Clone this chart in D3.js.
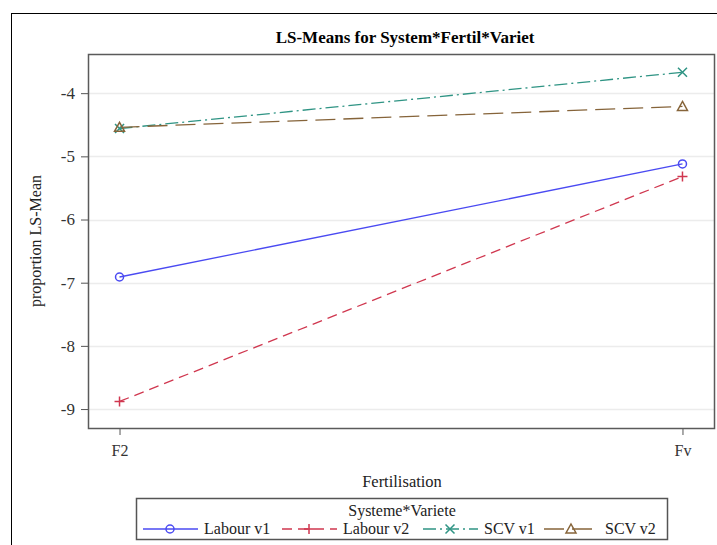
<!DOCTYPE html>
<html>
<head>
<meta charset="utf-8">
<script src="https://cdn.jsdelivr.net/npm/d3@7"></script>
<style>
  body { margin: 0; background: #fff; }
  svg text { font-family: "Liberation Serif", "Times New Roman", serif; }
</style>
</head>
<body>
<svg id="chart" width="717" height="545"></svg>
<script>
// data
var levels = ["F2", "Fv"];
var seriesNames = ["Labour v1", "Labour v2", "SCV v1", "SCV v2"];
var labourV1 = [-6.91, -5.12];
var labourV2 = [-8.88, -5.32];
var scvV1 = [-4.56, -3.67];
var scvV2 = [-4.54, -4.21];
var yTicks = [-9, -8, -7, -6, -5, -4];

var seriesValues = [labourV1, labourV2, scvV1, scvV2];
var colors = ["#4a4af2", "#d0374f", "#2f9484", "#86643a"];
var dashes = [null, "10,6", "13,4,2,4", "20,8"];
var symbols = ["circle", "plus", "x", "triangle"];

var svg = d3.select("#chart");

var plot = {left: 88, top: 54, right: 714, bottom: 428};

// outer frame (runs off the right and bottom edges)
svg.append("rect")
    .attr("x", 11.5).attr("y", 13.5)
    .attr("width", 800).attr("height", 600)
    .attr("fill", "none").attr("stroke", "#000").attr("stroke-width", 1);

var x = d3.scalePoint()
    .domain(levels)
    .range([plot.left, plot.right])
    .padding(0.056);

var y = d3.scaleLinear()
    .domain([-9.3, -3.38])
    .range([plot.bottom, plot.top]);

svg.append("text")
    .attr("x", 405).attr("y", 43)
    .attr("text-anchor", "middle")
    .attr("font-weight", "bold")
    .attr("font-size", 17)
    .text("LS-Means for System*Fertil*Variet");

// grid
svg.append("g").selectAll("line")
    .data(yTicks)
    .enter().append("line")
      .attr("x1", plot.left).attr("x2", plot.right)
      .attr("y1", function(d) { return Math.round(y(d)) + 0.5; })
      .attr("y2", function(d) { return Math.round(y(d)) + 0.5; })
      .attr("stroke", "#ececec").attr("stroke-width", 1.5);

// y axis
var yAxis = svg.append("g")
    .attr("transform", "translate(" + plot.left + ",0)")
    .call(d3.axisLeft(y).tickValues(yTicks).tickSize(7).tickPadding(6).tickFormat(d3.format("d")));
yAxis.select(".domain").remove();
yAxis.selectAll(".tick line").attr("stroke", "#555");
yAxis.selectAll("text")
    .attr("font-size", 17).attr("fill", "#333")
    .text(function(d) { return "-" + Math.abs(d); });

// x axis
var xAxis = svg.append("g")
    .attr("transform", "translate(0," + plot.bottom + ")")
    .call(d3.axisBottom(x).tickSize(7).tickPadding(10));
xAxis.select(".domain").remove();
xAxis.selectAll(".tick line").attr("stroke", "#555");
xAxis.selectAll("text")
    .attr("font-size", 16).attr("fill", "#333");

// plot frame
svg.append("rect")
    .attr("x", plot.left + 0.5).attr("y", plot.top + 0.5)
    .attr("width", plot.right - plot.left).attr("height", plot.bottom - plot.top)
    .attr("fill", "none").attr("stroke", "#5a5a5a").attr("stroke-width", 1.5);

svg.append("text")
    .attr("transform", "translate(41," + ((plot.top + plot.bottom) / 2) + ") rotate(-90)")
    .attr("text-anchor", "middle")
    .attr("font-size", 16)
    .attr("fill", "#222")
    .text("proportion LS-Mean");

svg.append("text")
    .attr("x", 402).attr("y", 487)
    .attr("text-anchor", "middle")
    .attr("font-size", 16.5)
    .attr("fill", "#222")
    .text("Fertilisation");

function drawMarker(g, kind, cx, cy, color) {
  if (kind === "circle") {
    g.append("circle").attr("cx", cx).attr("cy", cy).attr("r", 4)
      .attr("fill", "none").attr("stroke", color).attr("stroke-width", 1.5);
  } else if (kind === "plus") {
    g.append("path").attr("d", "M" + (cx - 5) + "," + cy + "h10M" + cx + "," + (cy - 5) + "v10")
      .attr("stroke", color).attr("stroke-width", 1.5);
  } else if (kind === "x") {
    g.append("path").attr("d", "M" + (cx - 4.5) + "," + (cy - 4.5) + "l9,9M" + (cx - 4.5) + "," + (cy + 4.5) + "l9,-9")
      .attr("stroke", color).attr("stroke-width", 1.5);
  } else {
    g.append("path").attr("d", "M" + cx + "," + (cy - 5) + "L" + (cx + 5) + "," + (cy + 4) + "L" + (cx - 5) + "," + (cy + 4) + "Z")
      .attr("fill", "none").attr("stroke", color).attr("stroke-width", 1.5);
  }
}

var line = d3.line()
    .x(function(d, i) { return x(levels[i]); })
    .y(function(d) { return y(d); });

var series = svg.append("g");
seriesValues.forEach(function(vals, k) {
  series.append("path")
    .attr("d", line(vals))
    .attr("fill", "none")
    .attr("stroke", colors[k])
    .attr("stroke-width", 1.3)
    .attr("stroke-dasharray", dashes[k]);
});
seriesValues.forEach(function(vals, k) {
  vals.forEach(function(v, i) {
    drawMarker(series, symbols[k], x(levels[i]), y(v), colors[k]);
  });
});

// legend
var legend = svg.append("g");
legend.append("rect")
    .attr("x", 136.5).attr("y", 498.5)
    .attr("width", 531).attr("height", 41)
    .attr("fill", "none").attr("stroke", "#555").attr("stroke-width", 1.5);
legend.append("text")
    .attr("x", 402).attr("y", 516)
    .attr("text-anchor", "middle")
    .attr("font-size", 16).attr("fill", "#222")
    .text("Systeme*Variete");

var itemX = [143, 282, 423, 544];
seriesNames.forEach(function(name, k) {
  var g = legend.append("g").attr("transform", "translate(" + itemX[k] + ",529)");
  g.append("line")
    .attr("x1", 0).attr("x2", 55).attr("y1", 0).attr("y2", 0)
    .attr("stroke", colors[k]).attr("stroke-width", 1.3)
    .attr("stroke-dasharray", dashes[k]);
  drawMarker(g, symbols[k], 27, 0, colors[k]);
  g.append("text")
    .attr("x", 61).attr("y", 5)
    .attr("font-size", 16).attr("fill", "#222")
    .text(name);
});
</script>
</body>
</html>
